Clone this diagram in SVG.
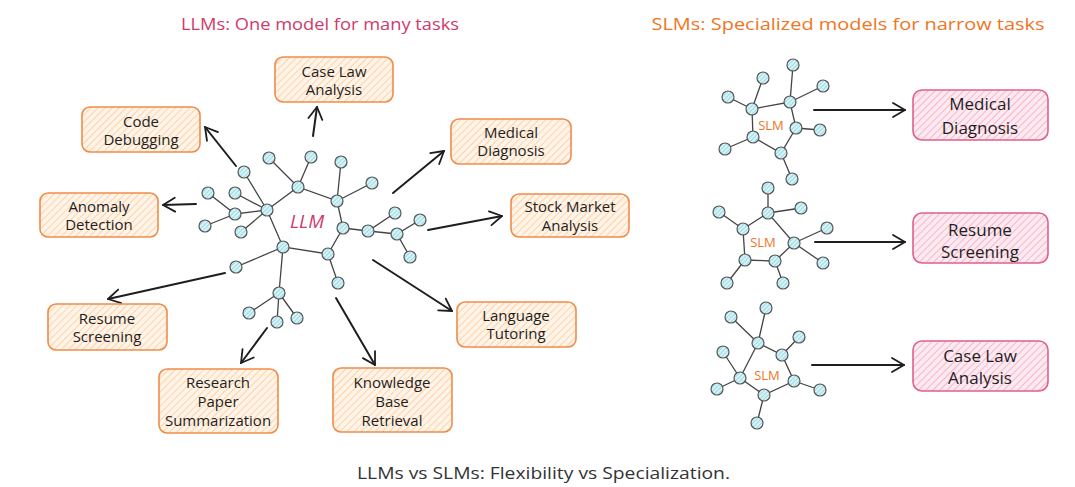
<svg xmlns="http://www.w3.org/2000/svg" width="1075" height="487" viewBox="0 0 1075 487">
<defs>
<pattern id="hOr" patternUnits="userSpaceOnUse" width="5" height="5" patternTransform="rotate(45)">
<rect width="5" height="5" fill="#fff4e8"/>
<line x1="0" y1="0" x2="0" y2="5" stroke="#ffc99a" stroke-width="1.6"/>
</pattern>
<pattern id="hPk" patternUnits="userSpaceOnUse" width="5" height="5" patternTransform="rotate(45)">
<rect width="5" height="5" fill="#fdeaf1"/>
<line x1="0" y1="0" x2="0" y2="5" stroke="#f5a8c3" stroke-width="1.6"/>
</pattern>
<pattern id="hCy" patternUnits="userSpaceOnUse" width="3" height="3" patternTransform="rotate(45)">
<rect width="3" height="3" fill="#d6f3f7"/>
<line x1="0" y1="0" x2="0" y2="3" stroke="#86d0da" stroke-width="1.4"/>
</pattern>
<marker id="ah" viewBox="0 0 20 20" refX="18" refY="10" markerWidth="20" markerHeight="20" markerUnits="userSpaceOnUse" orient="auto">
<path d="M6 3 L18 10 L6 17" fill="none" stroke="#1e1e1e" stroke-width="1.8" stroke-linecap="round" stroke-linejoin="round"/>
</marker>
</defs>
<style>
.bo{fill:url(#hOr);stroke:#f08c4a;stroke-width:1.6}
.bp{fill:url(#hPk);stroke:#e0608c;stroke-width:1.6}
.t{font-family:"Open Sans","Liberation Sans",sans-serif;font-size:15px;fill:#1e1e1e;text-anchor:middle;dominant-baseline:central}
.tp{font-family:"Open Sans","Liberation Sans",sans-serif;font-size:17px;fill:#1e1e1e;text-anchor:middle;dominant-baseline:central}
.ar{fill:none;stroke:#1e1e1e;stroke-width:2;stroke-linecap:round;marker-end:url(#ah)}
.e{fill:none;stroke:#444;stroke-width:1.3}
.n circle{fill:url(#hCy);stroke:#555;stroke-width:1.2}
.sl{font-family:"Open Sans","Liberation Sans",sans-serif;font-size:13px;fill:#f0751f;text-anchor:middle;dominant-baseline:central}
</style>
<rect width="1075" height="487" fill="#ffffff"/>

<text x="320" y="23" font-family="Open Sans, Liberation Sans, sans-serif" font-size="16.5" fill="#cf3a6a" text-anchor="middle" dominant-baseline="central" textLength="278" lengthAdjust="spacingAndGlyphs">LLMs: One model for many tasks</text>
<text x="848" y="23" font-family="Open Sans, Liberation Sans, sans-serif" font-size="16.5" fill="#f0751f" text-anchor="middle" dominant-baseline="central" textLength="393" lengthAdjust="spacingAndGlyphs">SLMs: Specialized models for narrow tasks</text>

<g id="connectors">
<path class="ar" d="M236 166 L205 127"/>
<path class="ar" d="M313 136 L317 107"/>
<path class="ar" d="M196 204 L163 205"/>
<path class="ar" d="M393 193 L444 151"/>
<path class="ar" d="M428 230 L502 216"/>
<path class="ar" d="M373 260 L452 311"/>
<path class="ar" d="M225 273 L108 299"/>
<path class="ar" d="M267 328 L241 363"/>
<path class="ar" d="M336 298 L375 365"/>
<path class="ar" d="M814 110 L905 110"/>
<path class="ar" d="M815 242 L905 242"/>
<path class="ar" d="M812 365 L904 365"/>
</g>

<g id="llm-network">
<g class="e">
<path d="M267 210 L298 187 L337 201 L343 228 L328 254 L283 247 Z"/>
<path d="M298 187 L269 158 M298 187 L311 157 M337 201 L341 162 M337 201 L372 183"/>
<path d="M267 210 L244 172 M267 210 L235 193 M267 210 L235 214 L208 193 M235 214 L205 226 M267 210 L241 232"/>
<path d="M343 228 L368 231 L395 213 M368 231 L397 234 L420 220 M397 234 L410 257"/>
<path d="M328 254 L338 283"/>
<path d="M283 247 L236 267 M283 247 L279 293 L249 313 M279 293 L277 322 M279 293 L297 318"/>
</g>
<g class="n">
<circle cx="269" cy="158" r="6"/><circle cx="311" cy="157" r="6"/><circle cx="341" cy="162" r="6"/><circle cx="372" cy="183" r="6"/>
<circle cx="244" cy="172" r="6"/><circle cx="298" cy="187" r="6"/><circle cx="337" cy="201" r="6"/>
<circle cx="208" cy="193" r="6"/><circle cx="235" cy="193" r="6"/><circle cx="235" cy="214" r="6"/><circle cx="267" cy="210" r="6"/>
<circle cx="205" cy="226" r="6"/><circle cx="241" cy="232" r="6"/>
<circle cx="395" cy="213" r="6"/><circle cx="420" cy="220" r="6"/><circle cx="343" cy="228" r="6"/><circle cx="368" cy="231" r="6"/><circle cx="397" cy="234" r="6"/><circle cx="410" cy="257" r="6"/>
<circle cx="283" cy="247" r="6"/><circle cx="328" cy="254" r="6"/><circle cx="236" cy="267" r="6"/><circle cx="338" cy="283" r="6"/>
<circle cx="279" cy="293" r="6"/><circle cx="249" cy="313" r="6"/><circle cx="277" cy="322" r="6"/><circle cx="297" cy="318" r="6"/>
</g>
<text x="307" y="221" font-family="Open Sans, Liberation Sans, sans-serif" font-size="19" font-style="italic" fill="#cf3a6a" text-anchor="middle" dominant-baseline="central">LLM</text>
</g>

<g id="slm1">
<g class="e">
<path d="M752 109 L790 102 L796 128 L781 153 L753 137 Z"/>
<path d="M752 109 L763 78 M752 109 L728 97 M790 102 L793 65 M790 102 L823 86 M796 128 L820 130 M753 137 L725 149 M781 153 L792 179"/>
</g>
<g class="n">
<circle cx="793" cy="65" r="6"/><circle cx="763" cy="78" r="6"/><circle cx="728" cy="97" r="6"/><circle cx="823" cy="86" r="6"/>
<circle cx="752" cy="109" r="6"/><circle cx="790" cy="102" r="6"/><circle cx="796" cy="128" r="6"/><circle cx="820" cy="130" r="6"/>
<circle cx="753" cy="137" r="6"/><circle cx="725" cy="149" r="6"/><circle cx="781" cy="153" r="6"/><circle cx="792" cy="179" r="6"/>
</g>
<text class="sl" x="771" y="125">SLM</text>
</g>

<g id="slm2">
<g class="e">
<path d="M768 213 L743 229 L745 260 L775 261 L794 243 Z"/>
<path d="M768 213 L768 188 M768 213 L801 208 M743 229 L719 212 M794 243 L827 228 M794 243 L823 263 M745 260 L727 283 M775 261 L783 283"/>
</g>
<g class="n">
<circle cx="768" cy="188" r="6"/><circle cx="801" cy="208" r="6"/><circle cx="719" cy="212" r="6"/><circle cx="768" cy="213" r="6"/>
<circle cx="743" cy="229" r="6"/><circle cx="827" cy="228" r="6"/><circle cx="794" cy="243" r="6"/><circle cx="745" cy="260" r="6"/>
<circle cx="775" cy="261" r="6"/><circle cx="823" cy="263" r="6"/><circle cx="727" cy="283" r="6"/><circle cx="783" cy="283" r="6"/>
</g>
<text class="sl" x="763" y="242">SLM</text>
</g>

<g id="slm3">
<g class="e">
<path d="M758 343 L782 355 L794 381 L764 395 L740 378 Z"/>
<path d="M758 343 L766 308 M758 343 L731 317 M782 355 L799 337 M794 381 L820 390 M740 378 L723 352 M740 378 L717 389 M764 395 L757 423"/>
</g>
<g class="n">
<circle cx="766" cy="308" r="6"/><circle cx="731" cy="317" r="6"/><circle cx="758" cy="343" r="6"/><circle cx="799" cy="337" r="6"/>
<circle cx="782" cy="355" r="6"/><circle cx="723" cy="352" r="6"/><circle cx="740" cy="378" r="6"/><circle cx="794" cy="381" r="6"/>
<circle cx="717" cy="389" r="6"/><circle cx="820" cy="390" r="6"/><circle cx="764" cy="395" r="6"/><circle cx="757" cy="423" r="6"/>
</g>
<text class="sl" x="767" y="375">SLM</text>
</g>

<g id="llm-case-law"><rect class="bo" x="275" y="57" width="118" height="45" rx="8"/><text class="t" x="334" y="71">Case Law</text><text class="t" x="334" y="89">Analysis</text></g>
<g id="llm-code-debugging"><rect class="bo" x="82" y="107" width="118" height="45" rx="8"/><text class="t" x="141" y="121">Code</text><text class="t" x="141" y="139">Debugging</text></g>
<g id="llm-anomaly"><rect class="bo" x="40" y="193" width="118" height="44" rx="8"/><text class="t" x="99" y="206">Anomaly</text><text class="t" x="99" y="224">Detection</text></g>
<g id="llm-medical"><rect class="bo" x="451" y="119" width="120" height="45" rx="8"/><text class="t" x="511" y="132">Medical</text><text class="t" x="511" y="150">Diagnosis</text></g>
<g id="llm-stock"><rect class="bo" x="511" y="194" width="118" height="43" rx="8"/><text class="t" x="570" y="206">Stock Market</text><text class="t" x="570" y="225">Analysis</text></g>
<g id="llm-language"><rect class="bo" x="457" y="302" width="119" height="45" rx="8"/><text class="t" x="516" y="315">Language</text><text class="t" x="516" y="333">Tutoring</text></g>
<g id="llm-resume"><rect class="bo" x="48" y="304" width="119" height="46" rx="8"/><text class="t" x="107" y="318">Resume</text><text class="t" x="107" y="336">Screening</text></g>
<g id="llm-research"><rect class="bo" x="159" y="369" width="119" height="64" rx="8"/><text class="t" x="218" y="382">Research</text><text class="t" x="218" y="401">Paper</text><text class="t" x="218" y="420">Summarization</text></g>
<g id="llm-knowledge"><rect class="bo" x="333" y="368" width="119" height="64" rx="8"/><text class="t" x="392" y="382">Knowledge</text><text class="t" x="392" y="401">Base</text><text class="t" x="392" y="420">Retrieval</text></g>

<g id="slm-medical"><rect class="bp" x="913" y="90" width="135" height="50" rx="9"/><text class="tp" x="980" y="103">Medical</text><text class="tp" x="980" y="127">Diagnosis</text></g>
<g id="slm-resume"><rect class="bp" x="913" y="213" width="135" height="50" rx="9"/><text class="tp" x="980" y="229">Resume</text><text class="tp" x="980" y="251">Screening</text></g>
<g id="slm-case-law"><rect class="bp" x="913" y="341" width="135" height="50" rx="9"/><text class="tp" x="980" y="355">Case Law</text><text class="tp" x="980" y="377">Analysis</text></g>

<text x="543.5" y="473" font-family="'Open Sans', Roboto, sans-serif" font-size="16" fill="#333333" text-anchor="middle" dominant-baseline="central" textLength="373" lengthAdjust="spacingAndGlyphs">LLMs vs SLMs: Flexibility vs Specialization.</text>
</svg>
